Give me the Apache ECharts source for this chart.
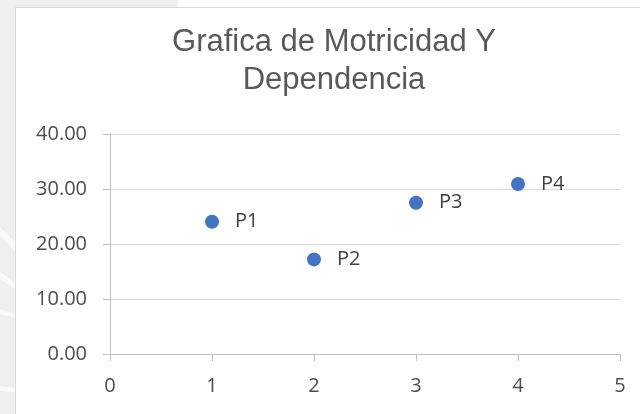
<!DOCTYPE html>
<html>
<head>
<meta charset="utf-8">
<script src="https://cdn.jsdelivr.net/npm/echarts@6/dist/echarts.min.js"></script>
<style>
html, body { margin: 0; padding: 0; }
#main { width: 640px; height: 414px; }
</style>
</head>
<body>
<div id="main"></div>
<script>
var myChart = echarts.init(document.getElementById('main'));

var names = ['P1', 'P2', 'P3', 'P4'];
var motricidad = [1, 2, 3, 4];
var dependencia = [24.05, 17.2, 27.5, 30.9];

var points = [];
for (var i = 0; i < names.length; i++) {
    points.push({ name: names[i], value: [motricidad[i], dependencia[i]] });
}

var option = {
    backgroundColor: '#efefef',
    textStyle: {
        fontFamily: 'Open Sans',
    },
    graphic: {
        elements: [
            // white strip on top right of the slide
            { type: 'rect', z: -10, silent: true, shape: { x: 178, y: 0, width: 470, height: 8 }, style: { fill: '#ffffff' } },
            // white stripes on the left edge
            { type: 'polygon', z: -10, silent: true, shape: { points: [[0, 227], [15, 242], [15, 251], [0, 236]] }, style: { fill: '#fafafa' } },
            { type: 'polygon', z: -10, silent: true, shape: { points: [[0, 272], [15, 283], [15, 289], [0, 279]] }, style: { fill: '#fafafa' } },
            { type: 'polygon', z: -10, silent: true, shape: { points: [[0, 309], [15, 314], [15, 318], [0, 314]] }, style: { fill: '#fafafa' } },
            { type: 'polygon', z: -10, silent: true, shape: { points: [[0, 386], [15, 388], [15, 392], [0, 391]] }, style: { fill: '#fafafa' } },
            // chart frame
            { type: 'rect', z: -9, silent: true, shape: { x: 15.5, y: 7.5, width: 640, height: 420 }, style: { fill: '#ffffff', stroke: '#d9d9d9', lineWidth: 1 } },
        ]
    },
    title: {
        text: 'Grafica de Motricidad Y\nDependencia',
        left: 334,
        top: 23,
        padding: 0,
        textAlign: 'center',
        textStyle: {
            fontFamily: 'Liberation Sans',
            fontSize: 31,
            fontWeight: 'normal',
            color: '#595959',
            lineHeight: 38,
        },
    },
    grid: {
        left: 110,
        right: 20,
        top: 134,
        bottom: 60,
    },
    xAxis: {
        type: 'value',
        min: 0,
        max: 5,
        interval: 1,
        axisLine: {
            lineStyle: { color: '#bfbfbf', width: 1 },
        },
        axisTick: {
            show: true,
            length: 7,
            lineStyle: { color: '#bfbfbf' },
        },
        axisLabel: {
            fontSize: 20,
            color: '#4d4d4d',
            margin: 22,
        },
        splitLine: { show: false },
    },
    yAxis: {
        type: 'value',
        min: 0,
        max: 40,
        interval: 10,
        axisLine: {
            show: true,
            lineStyle: { color: '#bfbfbf', width: 1 },
        },
        axisTick: {
            show: true,
            length: 7,
            lineStyle: { color: '#bfbfbf' },
        },
        axisLabel: {
            fontSize: 20,
            color: '#4d4d4d',
            margin: 23,
            formatter: function (v) { return v.toFixed(2); },
        },
        splitLine: {
            lineStyle: { color: '#d9d9d9', width: 1 },
        },
    },
    series: [{
        type: 'scatter',
        symbol: 'circle',
        symbolSize: 14,
        itemStyle: {
            color: '#4472c4',
            opacity: 1,
        },
        label: {
            show: true,
            position: 'right',
            distance: 16,
            formatter: '{b}',
            fontSize: 20,
            color: '#404040',
        },
        data: points,
    }]
};
myChart.setOption(option);
</script>
</body>
</html>
